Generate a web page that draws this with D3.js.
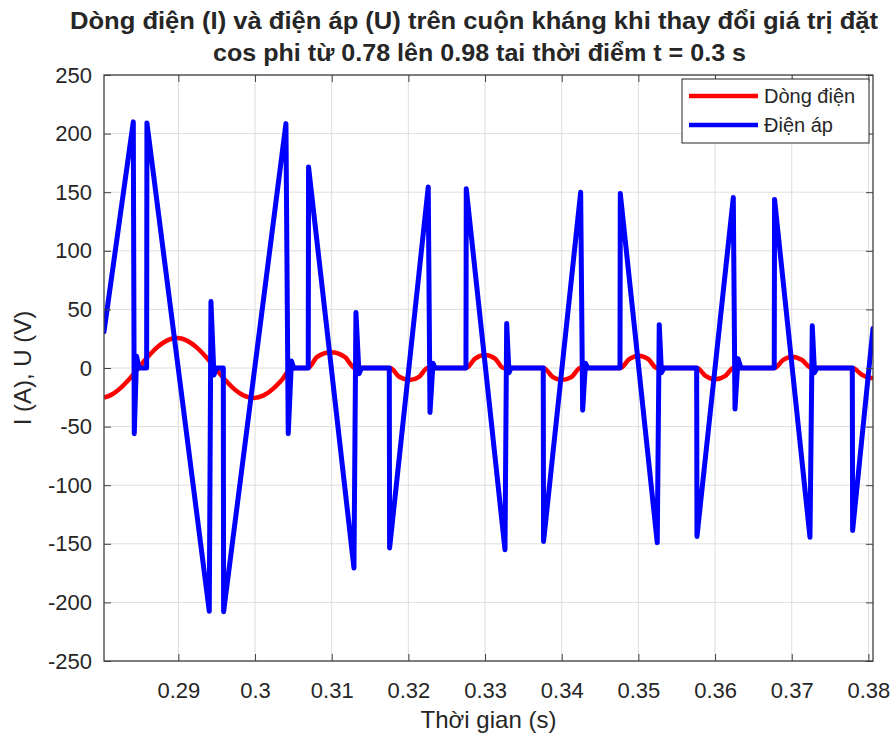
<!DOCTYPE html>
<html>
<head>
<meta charset="utf-8">
<script src="https://cdn.jsdelivr.net/npm/d3@7/dist/d3.min.js"></script>
<style>
body { margin: 0; background: #fff; }
text { font-family: "Liberation Sans", Arial, sans-serif; fill: #262626; }
</style>
</head>
<body>
<script>
// tick labels
var xTicks = [0.29, 0.3, 0.31, 0.32, 0.33, 0.34, 0.35, 0.36, 0.37, 0.38];
var yTicks = [-250, -200, -150, -100, -50, 0, 50, 100, 150, 200, 250];

var seriesNames = ["Dòng điện", "Điện áp"];

// current (A): [t, value]
var current = [
	[0.2803, -25.2], [0.28105, -23.6], [0.2823, -18], [0.28355, -9.8], [0.2848, 0],
	[0.28605, 9.8], [0.2873, 18], [0.28855, 23.6], [0.2898, 25.5], [0.29105, 23.6],
	[0.2923, 18], [0.29355, 9.8], [0.2948, 0], [0.29605, -9.8], [0.2973, -18],
	[0.29855, -23.6], [0.2998, -25.5], [0.30105, -23.6], [0.3023, -18], [0.30355, -9.8],
	[0.3048, 0], [0.30694, 0],
	[0.3081, 9.5], [0.3099, 13.5], [0.3117, 9.5], [0.31303, 0], [0.31763, 0],
	[0.3188, -7.5], [0.32015, -10.2], [0.3214, -7.5], [0.3225, 0], [0.32755, 0],
	[0.3287, 8], [0.33, 11], [0.3313, 8], [0.3324, 0], [0.33763, 0],
	[0.3388, -7.5], [0.34, -10.2], [0.3413, -7.5], [0.3424, 0], [0.34764, 0],
	[0.3488, 7.5], [0.35, 10.5], [0.3513, 7.5], [0.3524, 0], [0.35764, 0],
	[0.3588, -7], [0.36, -9.7], [0.3613, -7], [0.3624, 0], [0.36776, 0],
	[0.3689, 7], [0.37, 9.7], [0.3713, 7], [0.3726, 0], [0.37794, 0],
	[0.3791, -5.5], [0.3803, -8.5], [0.3806, -8.5]
];

// voltage (V): [t, value]
var voltage = [
	[0.2803, 31], [0.28412, 210], [0.28425, -56], [0.28455, 10], [0.28485, 0],
	[0.28586, 0], [0.2859, 209], [0.29403, -207.6], [0.29425, 56.7], [0.29464, -6],
	[0.29495, 0], [0.29586, 0], [0.2959, -208], [0.30403, 208.5], [0.30433, -56],
	[0.30475, 6], [0.30505, 0], [0.30694, 0], [0.30698, 171.5], [0.3129, -170.6],
	[0.31316, 47.4], [0.31356, -5], [0.31388, 0], [0.31751, 0], [0.31755, -153.6],
	[0.32259, 154.4], [0.32282, -38], [0.32321, 4], [0.32347, 0], [0.32751, 0],
	[0.32755, 153], [0.3326, -155], [0.33282, 38], [0.33312, -4], [0.33338, 0],
	[0.33759, 0], [0.33763, -148], [0.34247, 150], [0.34273, -36], [0.3431, 4],
	[0.34342, 0], [0.3476, 0], [0.34764, 148.8], [0.35246, -149], [0.35272, 37],
	[0.35301, -4], [0.35333, 0], [0.3576, 0], [0.35764, -143.7], [0.36238, 145.4],
	[0.3626, -35], [0.363, 8], [0.36338, 0], [0.36772, 0], [0.36776, 143.7],
	[0.37238, -144.5], [0.37268, 36], [0.37297, -4], [0.37329, 0], [0.3779, 0],
	[0.37794, -138.6], [0.3806, 33.8]
];

var margin = {top: 75, right: 23, bottom: 77, left: 104},
	width = 896 - margin.left - margin.right,
	height = 738 - margin.top - margin.bottom;

var x = d3.scaleLinear()
	.domain([0.2803, 0.3806])
	.range([0, width]);

var y = d3.scaleLinear()
	.domain([-250, 250])
	.range([height, 0]);

var svg = d3.select("body").append("svg")
		.attr("width", 896)
		.attr("height", 738)
		.style("display", "block");

var g = svg.append("g")
		.attr("transform", "translate(" + margin.left + "," + margin.top + ")");

// grid
g.selectAll(".gx").data(xTicks).enter().append("line")
	.attr("x1", d => x(d)).attr("x2", d => x(d))
	.attr("y1", 0).attr("y2", height)
	.attr("stroke", "#dedede").attr("stroke-width", 1);
g.selectAll(".gy").data(yTicks).enter().append("line")
	.attr("x1", 0).attr("x2", width)
	.attr("y1", d => y(d)).attr("y2", d => y(d))
	.attr("stroke", "#dedede").attr("stroke-width", 1);

g.append("clipPath").attr("id", "clip")
	.append("rect").attr("width", width).attr("height", height);

var lineI = d3.line()
	.x(d => x(d[0]))
	.y(d => y(d[1]))
	.curve(d3.curveMonotoneX);

var lineU = d3.line()
	.x(d => x(d[0]))
	.y(d => y(d[1]));

var plot = g.append("g").attr("clip-path", "url(#clip)");

plot.append("path")
	.datum(current)
	.attr("fill", "none")
	.attr("stroke", "#ff0000")
	.attr("stroke-width", 4.5)
	.attr("stroke-linejoin", "round")
	.attr("d", lineI);

plot.append("path")
	.datum(voltage)
	.attr("fill", "none")
	.attr("stroke", "#0000ff")
	.attr("stroke-width", 5)
	.attr("stroke-linejoin", "round")
	.attr("stroke-linecap", "round")
	.attr("d", lineU);

// axes, ticks inward on all four sides
function styleAxis(sel) {
	sel.select(".domain").remove();
	sel.selectAll(".tick line").attr("stroke", "#404040").attr("stroke-width", 1);
	sel.selectAll(".tick text")
		.style("font-family", "'Liberation Sans', Arial, sans-serif")
		.style("font-size", "22px")
		.attr("fill", "#262626");
}

g.append("g")
	.attr("transform", "translate(0," + height + ")")
	.call(d3.axisBottom(x).tickValues(xTicks).tickFormat(d => String(d)).tickSize(-7).tickPadding(21))
	.call(styleAxis);
g.append("g")
	.call(d3.axisTop(x).tickValues(xTicks).tickFormat("").tickSize(-7))
	.call(styleAxis);
g.append("g")
	.call(d3.axisLeft(y).tickValues(yTicks).tickFormat(d => String(d)).tickSize(-7).tickPadding(12))
	.call(styleAxis);
g.append("g")
	.attr("transform", "translate(" + width + ",0)")
	.call(d3.axisRight(y).tickValues(yTicks).tickFormat("").tickSize(-7))
	.call(styleAxis);

g.append("rect")
	.attr("width", width).attr("height", height)
	.attr("fill", "none").attr("stroke", "#404040").attr("stroke-width", 1.3);

// axis labels
svg.append("text")
	.attr("x", margin.left + width / 2)
	.attr("y", 728)
	.attr("text-anchor", "middle")
	.style("font-size", "24px")
	.text("Thời gian (s)");

svg.append("text")
	.attr("transform", "translate(31," + (margin.top + height / 2) + ") rotate(-90)")
	.attr("text-anchor", "middle")
	.style("font-size", "24px")
	.text("I (A), U (V)");

// title
svg.append("text")
	.attr("x", 70).attr("y", 29)
	.attr("textLength", 808).attr("lengthAdjust", "spacingAndGlyphs")
	.style("font-size", "24px").style("font-weight", "bold").attr("fill", "#000")
	.text("Dòng điện (I) và điện áp (U) trên cuộn kháng khi thay đổi giá trị đặt");
svg.append("text")
	.attr("x", 213).attr("y", 61)
	.attr("textLength", 533).attr("lengthAdjust", "spacingAndGlyphs")
	.style("font-size", "24px").style("font-weight", "bold").attr("fill", "#000")
	.text("cos phi từ 0.78 lên 0.98 tai thời điểm t = 0.3 s");

// legend
var legend = svg.append("g").attr("transform", "translate(682,79)");
legend.append("rect")
	.attr("width", 187).attr("height", 64)
	.attr("fill", "#fff").attr("stroke", "#262626").attr("stroke-width", 1);
var lc = ["#ff0000", "#0000ff"];
legend.selectAll(".li").data(seriesNames).enter().append("line")
	.attr("x1", 7).attr("x2", 76)
	.attr("y1", (d, i) => 17 + i * 29).attr("y2", (d, i) => 17 + i * 29)
	.attr("stroke", (d, i) => lc[i]).attr("stroke-width", 4.5);
legend.selectAll(".lt").data(seriesNames).enter().append("text")
	.attr("x", 82)
	.attr("y", (d, i) => 17 + i * 29)
	.attr("dy", "0.35em")
	.style("font-size", "20px")
	.text(d => d);
</script>
</body>
</html>
